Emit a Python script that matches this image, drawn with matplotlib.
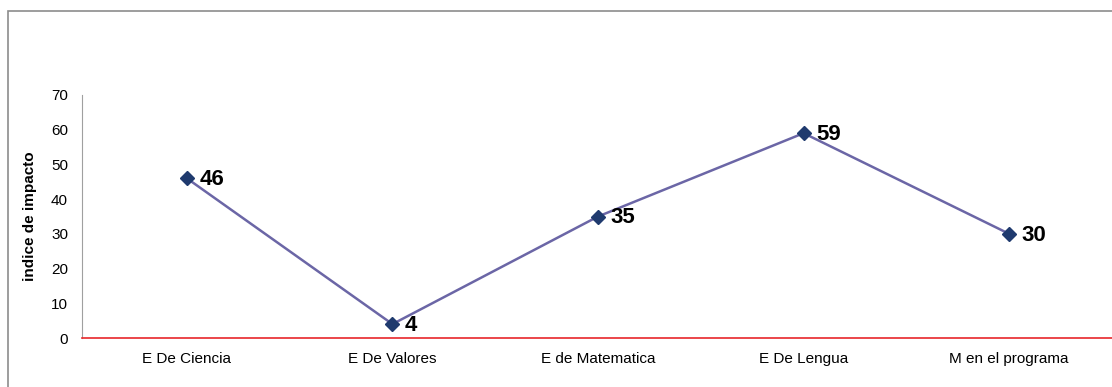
import matplotlib.pyplot as plt
from matplotlib.patches import Rectangle

categorias = ['E De Ciencia', 'E De Valores', 'E de Matematica', 'E De Lengua', 'M en el programa']
valores = [46, 4, 35, 59, 30]

fig = plt.figure(figsize=(11.12, 3.87), dpi=100)
plt.rcParams['font.family'] = ['Liberation Sans', 'DejaVu Sans']

# marco exterior del grafico
fig.patches.append(Rectangle((8 / 1112, -0.1), 1.2, 1 - 11 / 387 + 0.1,
                             transform=fig.transFigure, fill=False,
                             edgecolor='#8c8c8c', linewidth=1.2))

ax = fig.add_axes([82 / 1112, 49 / 387, 1030 / 1112, 243 / 387])
x = range(len(categorias))
ax.plot(x, valores, color='#6b66a6', linewidth=1.8, marker='D', markersize=7,
        markerfacecolor='#1f3a6e', markeredgecolor='#1f3a6e', zorder=3)
for xi, v in zip(x, valores):
    ax.annotate(str(v), (xi, v), xytext=(9, -1), textcoords='offset points',
                ha='left', va='center', fontsize=16, fontweight='bold')

ax.set_xlim(-0.51, 4.5)
ax.set_ylim(0, 70)
ax.set_yticks(range(0, 80, 10))
ax.set_xticks(list(x))
ax.set_xticklabels(categorias, fontsize=11)
ax.tick_params(axis='y', labelsize=11, length=0, pad=10)
ax.tick_params(axis='x', length=0, pad=10)
ax.set_ylabel('indice de impacto', fontsize=11, fontweight='bold', labelpad=10)

for s in ['top', 'right']:
    ax.spines[s].set_visible(False)
ax.spines['left'].set_color('#a0a0a0')
ax.spines['bottom'].set_color('#e8262a')
ax.spines['bottom'].set_linewidth(1.2)

fig.savefig('out.png', dpi=100)
